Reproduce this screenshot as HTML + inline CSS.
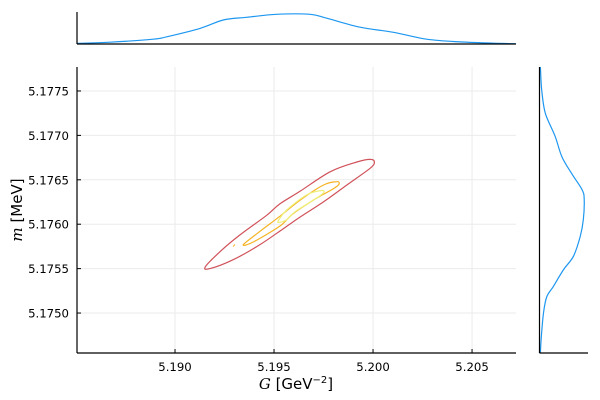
<!DOCTYPE html>
<html><head><meta charset="utf-8"><style>
body{margin:0;background:#fff;}
svg{display:block;font-family:"DejaVu Sans","Liberation Sans",sans-serif;}
</style></head><body>
<svg id="chart" width="600" height="400" viewBox="0 0 600 400">
<rect width="600" height="400" fill="#fff"/>
<g id="grid"></g>
<g id="marks"></g>
<g id="axes"></g>
<text x="296" y="389" text-anchor="middle" font-size="15"><tspan font-family="DejaVu Serif,serif" font-style="italic">G</tspan> [GeV<tspan font-size="10" dy="-6">−2</tspan><tspan dy="6">]</tspan></text>
<text transform="translate(22,210) rotate(-90)" text-anchor="middle" font-size="15"><tspan font-family="DejaVu Serif,serif" font-style="italic">m</tspan> [MeV]</text>
</svg>
<script>
const xTicks=[5.190,5.195,5.200,5.205];
const xTickLabels=["5.190","5.195","5.200","5.205"];
const yTicks=[5.1750,5.1755,5.1760,5.1765,5.1770,5.1775];
const yTickLabels=["5.1750","5.1755","5.1760","5.1765","5.1770","5.1775"];
const redG=[5.19153,5.19227,5.19328,5.19463,5.19530,5.19631,5.19783,5.19918,5.19985,5.20007,5.19985,5.19867,5.19749,5.19631,5.19547,5.19429,5.19294,5.19177];
const redM=[5.17552,5.17569,5.17588,5.17610,5.17623,5.17637,5.17659,5.17670,5.17673,5.17670,5.17663,5.17644,5.17625,5.17608,5.17595,5.17577,5.17560,5.17550];
const orangeG=[5.19345,5.19429,5.19530,5.19631,5.19749,5.19817,5.19828,5.19800,5.19698,5.19597,5.19530,5.19395];
const orangeM=[5.17577,5.17592,5.17609,5.17627,5.17644,5.17648,5.17645,5.17640,5.17627,5.17612,5.17598,5.17580];
const yellowG=[5.19522,5.19564,5.19665,5.19741,5.19749,5.19698,5.19606,5.19564,5.19525];
const yellowM=[5.17604,5.17616,5.17633,5.17638,5.17635,5.17627,5.17614,5.17605,5.17602];
const dotG=[5.19298];
const dotM=[5.17576];
const topG=[5.18504,5.18672,5.18890,5.18958,5.19126,5.19244,5.19362,5.19514,5.19682,5.19766,5.19934,5.20103,5.20271,5.20439,5.20641,5.2072];
const topDensity=[0.02,0.06,0.16,0.24,0.52,0.80,0.89,0.99,0.99,0.86,0.56,0.39,0.16,0.07,0.02,0.01];
const rightM=[5.17777,5.17751,5.17725,5.17699,5.17676,5.17657,5.17639,5.17628,5.17605,5.17586,5.17564,5.17549,5.17530,5.17518,5.17500,5.17473,5.17455];
const rightDensity=[0.02,0.05,0.13,0.35,0.50,0.72,0.95,1.0,0.98,0.91,0.76,0.54,0.31,0.16,0.09,0.04,0.02];

const NS="http://www.w3.org/2000/svg";
const X0=77,X1=516,Y0=353,Y1=67,XMIN=5.18505,XMAX=5.20722,YMIN=5.17455,YMAX=5.17777;
const sx=v=>X0+(v-XMIN)/(XMAX-XMIN)*(X1-X0);
const sy=v=>Y0-(v-YMIN)/(YMAX-YMIN)*(Y0-Y1);
const TB=44,TH=30;const tY=d=>TB-d*TH;
const RL=539.5,RW=44.7;const rX=d=>RL+d*RW;
function mk(tag,attrs,parent){const e=document.createElementNS(NS,tag);for(const k in attrs)e.setAttribute(k,attrs[k]);parent.appendChild(e);return e;}
function smooth(pts,closed){
 const n=pts.length;const P=i=>closed?pts[(i+n)%n]:pts[Math.max(0,Math.min(n-1,i))];
 let d='M'+pts[0][0].toFixed(1)+','+pts[0][1].toFixed(1);
 const last=closed?n:n-1;
 for(let i=0;i<last;i++){
  const p0=P(i-1),p1=P(i),p2=P(i+1),p3=P(i+2);
  const c1=[p1[0]+(p2[0]-p0[0])/6,p1[1]+(p2[1]-p0[1])/6];
  const c2=[p2[0]-(p3[0]-p1[0])/6,p2[1]-(p3[1]-p1[1])/6];
  d+='C'+c1[0].toFixed(1)+','+c1[1].toFixed(1)+' '+c2[0].toFixed(1)+','+c2[1].toFixed(1)+' '+p2[0].toFixed(1)+','+p2[1].toFixed(1);
 }
 return d+(closed?'Z':'');
}
const grid=document.getElementById('grid'),marks=document.getElementById('marks'),axes=document.getElementById('axes');
xTicks.forEach((t,i)=>{
 const l=mk('line',{x1:sx(t),x2:sx(t),y1:Y1,y2:Y0,stroke:'#ebebeb','stroke-width':1},grid);
 
 
 const tk=mk('line',{x1:sx(t),x2:sx(t),y1:Y0,y2:Y0-4,stroke:'#000'},axes);
 
 
 const tx=mk('text',{x:sx(t),y:Y0+18,'text-anchor':'middle','font-size':11.7},axes);
 tx.textContent=xTickLabels[i];
 
 
});
yTicks.forEach((t,i)=>{
 const l=mk('line',{x1:X0,x2:X1,y1:sy(t),y2:sy(t),stroke:'#ebebeb','stroke-width':1},grid);
 
 
 const tk=mk('line',{x1:X0,x2:X0+4,y1:sy(t),y2:sy(t),stroke:'#000'},axes);
 
 
 const tx=mk('text',{x:X0-8,y:sy(t)+4.5,'text-anchor':'end','font-size':11.7},axes);
 tx.textContent=yTickLabels[i];
 
 
});
function contour(gs,ms,color,name){
 const p=mk('path',{d:smooth(gs.map((g,i)=>[sx(g),sy(ms[i])]),true),fill:'none',stroke:color,'stroke-width':1.2,'stroke-linejoin':'round'},marks);
 
 
}
contour(redG,redM,'#d0525a','contour-outer');
contour(orangeG,orangeM,'#f5b324','contour-middle');
contour(yellowG,yellowM,'#eef07a','contour-inner');
dotG.forEach((g,i)=>{
 const d=mk('line',{x1:sx(g)-1,y1:sy(dotM[i])+1,x2:sx(g)+1,y2:sy(dotM[i])-1,stroke:'#f5b324','stroke-width':1},marks);
 
 
});
const tp=mk('path',{d:smooth(topG.map((g,i)=>[sx(g),tY(topDensity[i])]),false),fill:'none',stroke:'#1e97f0','stroke-width':1.2},axes);


const rp=mk('path',{d:smooth(rightM.map((m,i)=>[rX(rightDensity[i]),sy(m)]),false),fill:'none',stroke:'#1e97f0','stroke-width':1.2},axes);


const frame=[[X0,Y1,X0,Y0],[X0,Y0,X1,Y0],[X0,12,X0,TB],[X0,TB,X1,TB],[RL,Y1,RL,Y0],[RL,Y0,588,Y0]];
frame.forEach(f=>{
 const l=mk('line',{x1:f[0],y1:f[1],x2:f[2],y2:f[3],stroke:'#000','stroke-width':1.2},axes);
 
 
});
</script>
</body></html>
